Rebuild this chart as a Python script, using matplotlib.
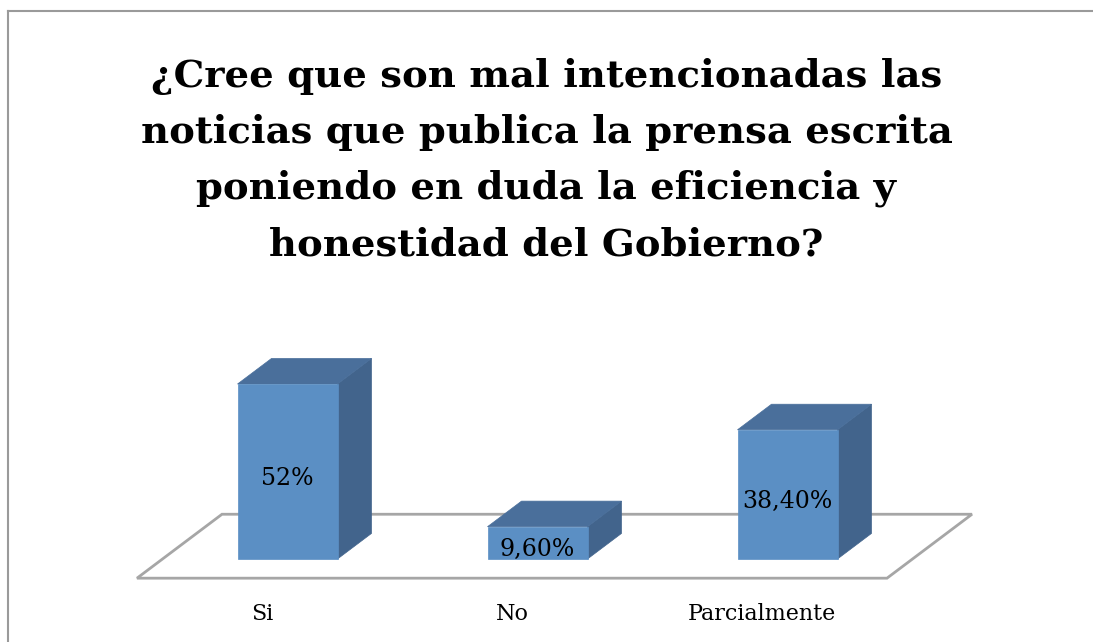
import matplotlib
matplotlib.use("Agg")
import matplotlib.pyplot as plt
from matplotlib.patches import Polygon
from matplotlib.lines import Line2D

# data
categories = ["Si", "No", "Parcialmente"]
values = [52.0, 9.6, 38.4]
value_labels = ["52%", "9,60%", "38,40%"]
title = ("¿Cree que son mal intencionadas las\n"
         "noticias que publica la prensa escrita\n"
         "poniendo en duda la eficiencia y\n"
         "honestidad del Gobierno?")

# 3D look (oblique projection, data units)
DEPTH_X = 0.34     # category units per full depth
DEPTH_Y = 19.0     # percent units per full depth
BAR_D0, BAR_D1 = 0.3, 0.7
BAR_W = 0.4

FRONT = "#5b8fc4"
TOP = "#4a6f9b"
SIDE = "#42648c"
FLOOR = "#a6a6a6"


def proj(x, v, d):
    return (x + d * DEPTH_X, v + (d - BAR_D0) * DEPTH_Y)


W, H = 1093, 642
fig = plt.figure(figsize=(W / 100, H / 100), dpi=100)
ax = fig.add_axes([0, 0, 1, 1])
ax.set_xlim(-137 / 250, (W - 137) / 250)
ax.set_ylim(-(H - 559) / 3.365, 559 / 3.365)
ax.axis("off")

# floor
n = len(categories)
floor = [proj(0, 0, 0), proj(n, 0, 0), proj(n, 0, 1), proj(0, 0, 1)]
ax.add_patch(Polygon(floor, closed=True, facecolor="white",
                     edgecolor=FLOOR, lw=2, zorder=1))

for i, (v, lab) in enumerate(zip(values, value_labels)):
    x0 = i + 0.5 - BAR_W / 2
    x1 = i + 0.5 + BAR_W / 2
    d0, d1 = BAR_D0, BAR_D1
    front = [proj(x0, 0, d0), proj(x1, 0, d0), proj(x1, v, d0), proj(x0, v, d0)]
    top = [proj(x0, v, d0), proj(x1, v, d0), proj(x1, v, d1), proj(x0, v, d1)]
    side = [proj(x1, 0, d0), proj(x1, 0, d1), proj(x1, v, d1), proj(x1, v, d0)]
    for poly, c in ((side, SIDE), (top, TOP), (front, FRONT)):
        ax.add_patch(Polygon(poly, closed=True, facecolor=c, edgecolor=c,
                             lw=0.5, zorder=3))
    cx, cy = proj(i + 0.5, v / 2, d0)
    ax.annotate(lab, (cx, cy), xytext=(0, -5), textcoords="offset points",
                ha="center", va="center", fontsize=17,
                family="DejaVu Serif", color="black", zorder=5)
    fx, fy = proj(i + 0.5, 0, 0)
    ax.annotate(categories[i], (fx, fy), xytext=(0, -26),
                textcoords="offset points", ha="center", va="center",
                fontsize=16, family="DejaVu Serif", color="black")

fig.text(0.5, 0.75, title, ha="center", va="center", fontsize=27.7,
         fontweight="bold", family="DejaVu Serif", linespacing=1.66)

# chart border (left and top visible)
fig.add_artist(Line2D([8 / W, 8 / W], [0, 1 - 11 / H], color="#9a9a9a",
                      lw=1.5, transform=fig.transFigure))
fig.add_artist(Line2D([8 / W, 1], [1 - 11 / H, 1 - 11 / H], color="#9a9a9a",
                      lw=1.5, transform=fig.transFigure))

fig.savefig("out.png", dpi=100)
